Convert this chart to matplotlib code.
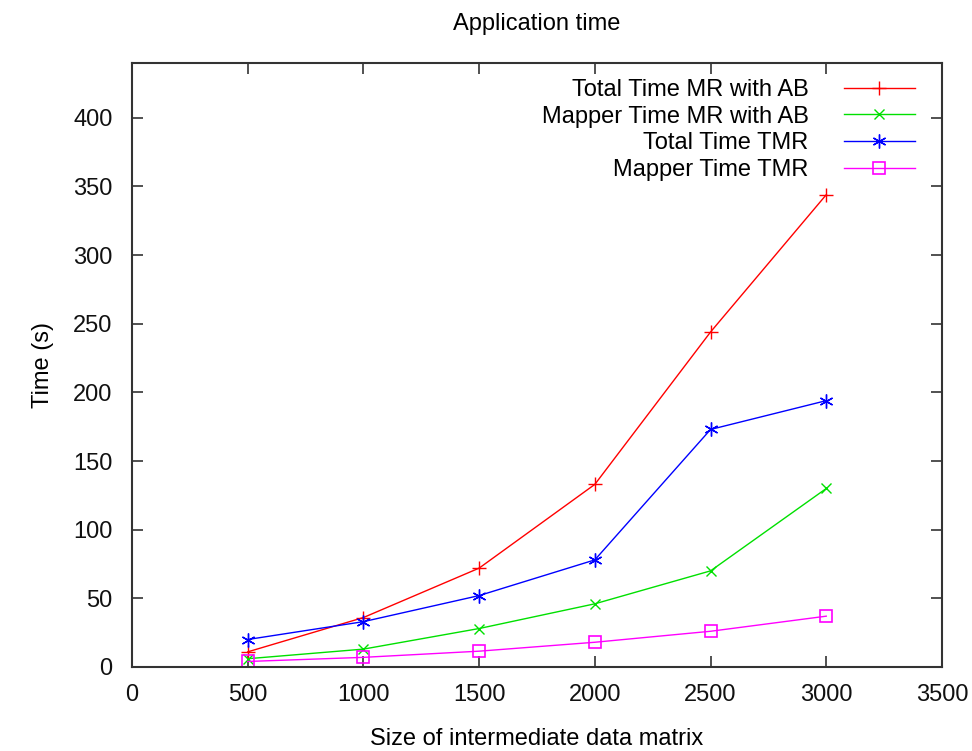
import matplotlib
matplotlib.use('Agg')
import matplotlib.pyplot as plt

# data
sizes = [500, 1000, 1500, 2000, 2500, 3000]
total_mr_ab = [11, 36, 72, 133, 244, 344]
mapper_mr_ab = [6, 13, 28, 46, 70, 130]
total_tmr = [20, 33, 52, 78, 173, 194]
mapper_tmr = [4, 7, 11.5, 18, 26, 37]

labels = ['Total Time MR with AB', 'Mapper Time MR with AB',
          'Total Time TMR', 'Mapper Time TMR']

plt.rcParams['font.family'] = ['Liberation Sans', 'DejaVu Sans']

fig = plt.figure(figsize=(9.72, 7.51), dpi=100)
ax = fig.add_axes([0.1358, 0.1119, 0.8333, 0.8043])

ax.plot(sizes, total_mr_ab, color='#ff0000', marker='+', markersize=10, lw=1.0, label=labels[0])
ax.plot(sizes, mapper_mr_ab, color='#00e000', marker='x', markersize=7, lw=1.0, label=labels[1])
ax.plot(sizes, total_tmr, color='#0000ff', marker=(6, 2, 0), markersize=10, lw=1.0, label=labels[2])
ax.plot(sizes, mapper_tmr, color='#ff00ff', marker='s', markersize=8, mfc='none', mew=1.2, lw=1.0, label=labels[3])

ax.set_xlim(0, 3500)
ax.set_ylim(0, 440)
ax.set_xticks(range(0, 3501, 500))
ax.set_yticks(range(0, 401, 50))
ax.tick_params(direction='in', length=8, width=1.2, top=True, right=True, labelsize=17,
               colors='#333333', labelcolor='#111111')
ax.tick_params(axis='y', pad=14)
ax.tick_params(axis='x', pad=12)
for sp in ax.spines.values():
    sp.set_linewidth(1.5)
    sp.set_color('#333333')

ax.set_title('Application time', fontsize=17, pad=24)
ax.set_xlabel('Size of intermediate data matrix', fontsize=17, labelpad=16)
ax.set_ylabel('Time (s)', fontsize=17, labelpad=14)

leg = ax.legend(loc='upper right', bbox_to_anchor=(0.978, 0.989), frameon=False,
                markerfirst=False, fontsize=17, handlelength=3.0, labelspacing=0.2,
                borderaxespad=0, handletextpad=1.5)
for t in leg.get_texts():
    t.set_ha('right')
leg._legend_box.align = 'right'

fig.savefig('out.png', dpi=100)
